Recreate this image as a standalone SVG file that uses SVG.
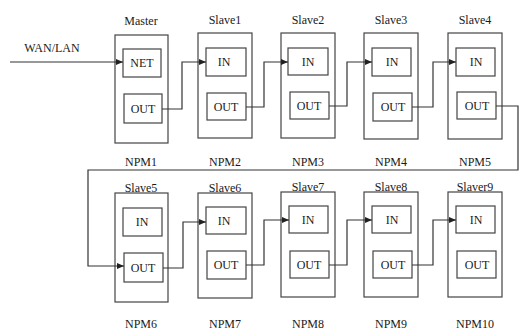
<svg xmlns="http://www.w3.org/2000/svg" width="520" height="332" viewBox="0 0 520 332">
<defs>
<style>
.b{fill:#fff;stroke:#444;stroke-width:1.2}
.t{font-family:'Liberation Serif','Times New Roman','DejaVu Serif',serif;font-size:12px;fill:#1a1a1a;text-anchor:middle}
.c{fill:none;stroke:#333;stroke-width:1.2}
</style>
<marker id="a" markerWidth="8" markerHeight="8" refX="7" refY="4" orient="auto" markerUnits="userSpaceOnUse"><path d="M0,1 L7,4 L0,7 Z" fill="#222"/></marker>
</defs>
<rect width="520" height="332" fill="#fff"/>
<text class="t" x="52" y="52">WAN/LAN</text>
<g id="npm1"><text class="t" x="141" y="25">Master</text><rect class="b" x="115" y="35" width="53" height="108"/><rect class="b" x="123" y="49" width="38" height="28"/><text class="t" x="142" y="67">NET</text><rect class="b" x="124" y="94" width="38" height="29"/><text class="t" x="143" y="113">OUT</text><text class="t" x="141" y="166">NPM1</text></g>
<g id="npm2"><text class="t" x="225" y="24">Slave1</text><rect class="b" x="198" y="33" width="54" height="105"/><rect class="b" x="206" y="48" width="40" height="28"/><text class="t" x="224" y="66">IN</text><rect class="b" x="207" y="93" width="39" height="27"/><text class="t" x="226" y="111">OUT</text><text class="t" x="225" y="166">NPM2</text></g>
<g id="npm3"><text class="t" x="308" y="24">Slave2</text><rect class="b" x="281" y="33" width="54" height="105"/><rect class="b" x="288" y="48" width="40" height="27"/><text class="t" x="308" y="66">IN</text><rect class="b" x="290" y="92" width="39" height="27"/><text class="t" x="309" y="110">OUT</text><text class="t" x="308" y="166">NPM3</text></g>
<g id="npm4"><text class="t" x="391" y="24">Slave3</text><rect class="b" x="364" y="33" width="54" height="106"/><rect class="b" x="372" y="48" width="39" height="28"/><text class="t" x="392" y="66">IN</text><rect class="b" x="373" y="93" width="39" height="28"/><text class="t" x="393" y="111">OUT</text><text class="t" x="391" y="166">NPM4</text></g>
<g id="npm5"><text class="t" x="475" y="24">Slave4</text><rect class="b" x="448" y="33" width="54" height="106"/><rect class="b" x="456" y="48" width="39" height="28"/><text class="t" x="476" y="66">IN</text><rect class="b" x="457" y="92" width="39" height="27"/><text class="t" x="477" y="110">OUT</text><text class="t" x="475" y="166">NPM5</text></g>
<g id="npm6"><text class="t" x="141" y="192">Slave5</text><rect class="b" x="115" y="193" width="53" height="109"/><rect class="b" x="123" y="208" width="39" height="28"/><text class="t" x="142" y="226">IN</text><rect class="b" x="124" y="253" width="39" height="29"/><text class="t" x="143" y="272">OUT</text><text class="t" x="141" y="328">NPM6</text></g>
<g id="npm7"><text class="t" x="225" y="192">Slave6</text><rect class="b" x="198" y="193" width="54" height="105"/><rect class="b" x="206" y="207" width="40" height="27"/><text class="t" x="224" y="225">IN</text><rect class="b" x="207" y="251" width="39" height="28"/><text class="t" x="226" y="269">OUT</text><text class="t" x="225" y="328">NPM7</text></g>
<g id="npm8"><text class="t" x="308" y="191">Slave7</text><rect class="b" x="281" y="192" width="54" height="105"/><rect class="b" x="289" y="206" width="39" height="27"/><text class="t" x="308" y="224">IN</text><rect class="b" x="290" y="251" width="39" height="27"/><text class="t" x="309" y="269">OUT</text><text class="t" x="308" y="328">NPM8</text></g>
<g id="npm9"><text class="t" x="391" y="191">Slave8</text><rect class="b" x="364" y="192" width="54" height="105"/><rect class="b" x="372" y="206" width="39" height="27"/><text class="t" x="392" y="224">IN</text><rect class="b" x="373" y="251" width="39" height="27"/><text class="t" x="393" y="269">OUT</text><text class="t" x="391" y="328">NPM9</text></g>
<g id="npm10"><text class="t" x="475" y="191">Slaver9</text><rect class="b" x="448" y="192" width="54" height="105"/><rect class="b" x="456" y="206" width="39" height="27"/><text class="t" x="476" y="224">IN</text><rect class="b" x="457" y="251" width="39" height="27"/><text class="t" x="477" y="269">OUT</text><text class="t" x="475" y="328">NPM10</text></g>
<g id="connectors">
<path class="c" d="M10,62 H123" marker-end="url(#a)"/>
<path class="c" d="M162,109 H182 V62 H206" marker-end="url(#a)"/>
<path class="c" d="M246,107 H264 V62 H288" marker-end="url(#a)"/>
<path class="c" d="M329,106 H347 V62 H372" marker-end="url(#a)"/>
<path class="c" d="M412,107 H433 V62 H456" marker-end="url(#a)"/>
<path class="c" d="M496,106 H518 V170 H88 V266 H124" marker-end="url(#a)"/>
<path class="c" d="M163,268 H183 V222 H206" marker-end="url(#a)"/>
<path class="c" d="M246,265 H264 V220 H289" marker-end="url(#a)"/>
<path class="c" d="M329,265 H347 V220 H372" marker-end="url(#a)"/>
<path class="c" d="M412,265 H433 V220 H456" marker-end="url(#a)"/>
</g>
</svg>
